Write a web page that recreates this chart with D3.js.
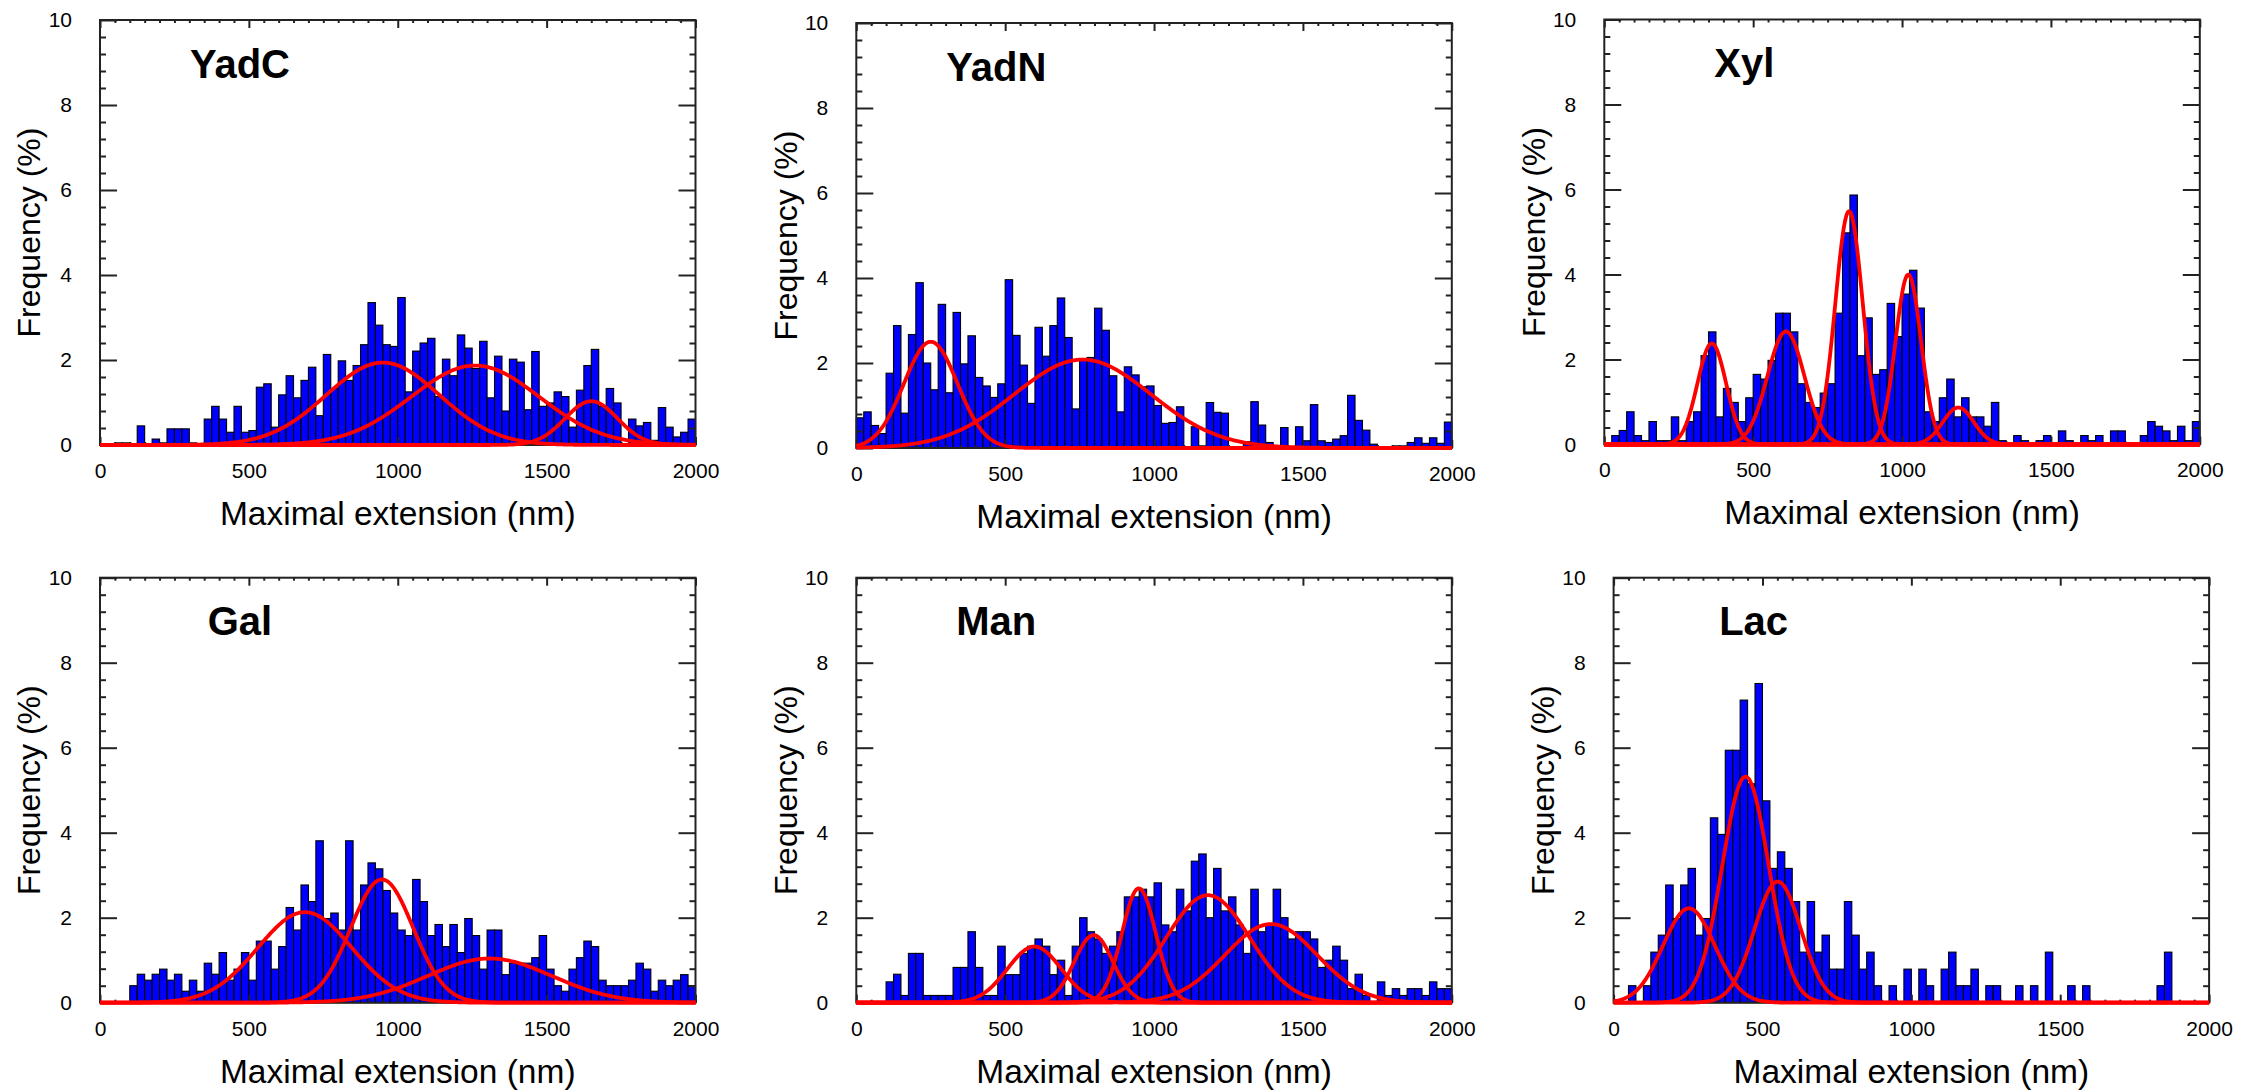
<!DOCTYPE html>
<html><head><meta charset="utf-8">
<script src="https://cdn.jsdelivr.net/npm/d3@7"></script>
<style>
body{margin:0;background:#fff;}
svg{display:block;font-family:Arial,"Liberation Sans",sans-serif;}
</style></head><body>
<svg id="chart" width="2257" height="1092"></svg>
<script>
// ---------- data ----------
const binWidth = 25; // nm
const xTicks = [0, 500, 1000, 1500, 2000];
const yTicks = [0, 2, 4, 6, 8, 10];
const panelTitles = ["YadC", "YadN", "Xyl", "Gal", "Man", "Lac"];
const xLabel = "Maximal extension (nm)";
const yLabel = "Frequency (%)";

// frequencies (%) per 25-nm bin, 0–2000 nm
const yadC = [0,0,0.05,0.05,0,0.45,0,0.14,0.05,0.38, 0.38,0.38,0.05,0,0.61,0.91,0.61,0.30,0.91,0.30,
  0.34,1.36,1.44,0.42,1.18,1.63,1.11,1.52,1.83,0.69, 2.13,1.33,1.98,1.52,1.87,2.36,3.35,2.82,2.36,2.32,
  3.47,1.25,2.21,2.40,2.51,1.14,2.02,1.63,2.59,2.28, 1.80,2.44,1.11,2.09,0.80,2.02,1.95,0.83,2.20,0.91,
  0.99,1.25,1.14,0.42,1.29,1.87,2.25,0.91,1.33,0.99, 0,0.61,0.45,0.53,0.11,0.88,0.42,0.19,0.30,0.61];
const yadN = [0.71,0.85,0.53,0.34,1.76,2.88,0.82,2.67,3.89,2.0, 1.37,3.38,1.30,3.19,1.98,2.64,1.66,1.46,1.19,1.51,
  3.96,2.65,1.95,1.05,2.84,2.16,2.88,3.53,2.60,0.92, 2.07,2.13,3.29,2.77,1.70,0.85,1.91,1.72,1.44,1.46,
  1.0,0.58,0.60,0.97,0,0.50,0.05,1.07,0.84,0.82, 0,0,0.15,1.09,0.54,0.13,0,0.48,0,0.50,
  0.17,1.02,0.17,0.13,0.21,0.29,1.24,0.65,0.42,0.09, 0,0,0.05,0.05,0.13,0.24,0.11,0.24,0.11,0.61];
const xyl = [0,0.21,0.33,0.77,0.21,0.09,0.54,0.09,0.09,0.65, 0.09,0.54,0.77,2.09,2.65,0.65,1.32,0.99,0.54,1.10,
  1.65,1.54,1.98,3.09,3.09,2.65,1.43,0.99,0.87,1.21, 1.43,3.09,4.98,5.87,2.09,2.98,1.65,1.76,3.32,2.54,
  3.54,4.10,3.21,0.77,0.54,1.10,1.54,0.65,1.10,0.65, 0.65,0.43,0.99,0.09,0,0.21,0.09,0,0.09,0.21,
  0,0.32,0.09,0,0.21,0.09,0.21,0,0.32,0.32, 0,0,0.21,0.54,0.43,0.32,0.09,0.43,0.09,0.54];
const gal = [0,0,0,0,0.40,0.67,0.53,0.67,0.79,0.53, 0.67,0.27,0.53,0.27,0.93,0.67,1.18,0.53,0.79,1.18,
  0.53,1.45,1.45,0.79,1.32,2.24,1.71,2.77,2.38,3.81, 1.98,2.11,1.71,3.81,1.71,2.77,3.29,3.15,2.64,2.11,
  1.71,1.58,2.90,2.38,1.58,1.84,1.32,1.84,1.18,1.98, 1.58,0.79,1.71,1.71,0.66,0.93,0.93,0.93,1.06,1.58,
  0.79,0.40,0.27,0.79,1.06,1.45,1.32,0.53,0.40,0.40, 0.40,0.53,0.93,0.79,0.27,0.53,0.40,0.53,0.66,0.40];
const man = [0,0,0,0,0.49,0.67,0.17,1.16,1.16,0.17, 0.17,0.17,0.17,0.83,0.83,1.67,0.83,0.17,0.17,1.33,
  0.66,0.66,1.16,1.33,1.50,1.33,0.66,1.0,0.17,1.33, 2.0,1.67,1.50,1.16,1.33,1.67,2.49,2.49,2.67,2.49,
  2.82,1.83,1.67,2.67,2.16,3.33,3.50,2.0,3.16,2.16, 2.49,1.83,1.16,2.67,1.67,1.83,2.67,2.0,1.50,1.67,
  1.67,1.50,0.83,1.0,1.33,1.0,0.33,0.67,0.17,0, 0.49,0.17,0.33,0.17,0.33,0.33,0.17,0.49,0.33,0.33];
const lac = [0,0,0.40,0,0.40,1.19,1.59,2.77,1.98,2.77, 3.16,1.59,1.98,4.35,3.96,5.94,5.94,7.12,5.15,7.51,
  4.75,3.16,3.55,3.16,2.38,1.19,2.38,1.19,1.59,0.79, 0.79,2.38,1.59,0.79,1.19,0.40,0,0.40,0,0.79,
  0,0.79,0.40,0,0.79,1.19,0.40,0.40,0.79,0, 0.40,0.40,0,0,0.40,0,0.40,0,1.19,0,
  0,0.40,0,0.40,0,0,0,0,0,0, 0,0,0,0.40,1.19,0,0,0,0,0];

// Gaussian fit components: [amplitude %, centre nm, sigma nm]
const yadCFits = [[1.94, 950, 190], [1.87, 1260, 215], [1.03, 1650, 88]];
const yadNFits = [[2.50, 250, 90], [2.08, 760, 230]];
const xylFits  = [[2.38, 361, 48], [2.66, 610, 62], [5.49, 822, 46], [4.00, 1021, 43], [0.87, 1189, 52]];
const galFits  = [[2.13, 688, 158], [2.90, 947, 105], [1.04, 1309, 208]];
const manFits  = [[1.32, 598, 90], [1.59, 797, 65], [2.69, 949, 57], [2.53, 1181, 140], [1.85, 1393, 155]];
const lacFits  = [[2.22, 253, 87], [5.32, 443, 78], [2.85, 551, 78]];

// ---------- layout ----------
const W = 595.5, H = 425;
const panels = [
  {title: panelTitles[0], data: yadC, fits: yadCFits, left: 100,   top: 20},
  {title: panelTitles[1], data: yadN, fits: yadNFits, left: 856.3, top: 23},
  {title: panelTitles[2], data: xyl,  fits: xylFits,  left: 1604.3,top: 19.5},
  {title: panelTitles[3], data: gal,  fits: galFits,  left: 100,   top: 577.7},
  {title: panelTitles[4], data: man,  fits: manFits,  left: 856.3, top: 577.7},
  {title: panelTitles[5], data: lac,  fits: lacFits,  left: 1613.6,top: 577.7}
];

const svg = d3.select("#chart");
const axisColor = "#222";
const FONT = "Arial, 'Liberation Sans', sans-serif";

panels.forEach(p => {
  const g = svg.append("g").attr("transform", `translate(${p.left},${p.top})`);
  const x = d3.scaleLinear().domain([0, 2000]).range([0, W]);
  const y = d3.scaleLinear().domain([0, 10]).range([H, 0]);

  // bars
  g.selectAll("rect.bar")
    .data(p.data.map((v, i) => ({v, i})).filter(d => d.v > 0))
    .join("rect").attr("class", "bar")
    .attr("x", d => x(d.i * binWidth))
    .attr("width", x(binWidth) - x(0))
    .attr("y", d => y(d.v))
    .attr("height", d => H - y(d.v))
    .attr("fill", "#0000ff").attr("stroke", "#000").attr("stroke-width", 1.1);

  // axes (inward ticks)
  const yMinor = d3.range(0, 10.001, 0.4).filter(v => Math.abs(v / 2 - Math.round(v / 2)) > 0.01);
  const xMinor = d3.range(0, 2001, 50).filter(v => v % 500 !== 0);
  const styleAxis = sel => {
    sel.select(".domain").remove();
    sel.selectAll(".tick line").attr("stroke", axisColor).attr("stroke-width", 2);
  };
  const styleText = sel => sel.selectAll("text").attr("font-size", 21).attr("fill", "#000").attr("font-family", FONT);
  g.append("g").call(d3.axisLeft(y).tickValues(yTicks).tickSize(-17).tickPadding(28).tickFormat(d3.format("d")))
    .call(styleAxis).call(styleText);
  g.append("g").call(d3.axisLeft(y).tickValues(yMinor).tickSize(-6).tickFormat("")).call(styleAxis);
  g.append("g").attr("transform", `translate(${W},0)`)
    .call(d3.axisRight(y).tickValues(yTicks).tickSize(-17).tickFormat("")).call(styleAxis);
  g.append("g").attr("transform", `translate(${W},0)`)
    .call(d3.axisRight(y).tickValues(yMinor).tickSize(-6).tickFormat("")).call(styleAxis);
  g.append("g").attr("transform", `translate(0,${H})`)
    .call(d3.axisBottom(x).tickValues(xTicks).tickSize(-8).tickPadding(18).tickFormat(d3.format("d")))
    .call(styleAxis).call(styleText);
  g.append("g").attr("transform", `translate(0,${H})`)
    .call(d3.axisBottom(x).tickValues(xMinor).tickSize(-3).tickFormat("")).call(styleAxis);
  g.append("g")
    .call(d3.axisTop(x).tickValues(xTicks).tickSize(-8).tickFormat("")).call(styleAxis);
  g.append("g")
    .call(d3.axisTop(x).tickValues(xMinor).tickSize(-3).tickFormat("")).call(styleAxis);

  // frame
  g.append("rect").attr("width", W).attr("height", H)
    .attr("fill", "none").attr("stroke", axisColor).attr("stroke-width", 2);

  // gaussian fit curves
  const xs = d3.range(0, 2000.01, 4);
  const line = d3.line().x(d => x(d[0])).y(d => y(d[1]));
  p.fits.forEach(([a, mu, s]) => {
    g.append("path")
      .datum(xs.map(v => [v, a * Math.exp(-((v - mu) ** 2) / (2 * s * s))]))
      .attr("d", line).attr("fill", "none")
      .attr("stroke", "#ff0000").attr("stroke-width", 3.8).attr("stroke-linejoin", "round");
  });

  // titles
  g.append("text").attr("x", 140).attr("y", 47).attr("text-anchor", "middle")
    .attr("dominant-baseline", "middle")
    .attr("font-size", 40).attr("font-weight", "bold").text(p.title);
  g.append("text").attr("x", W / 2).attr("y", H + 71).attr("text-anchor", "middle")
    .attr("dominant-baseline", "middle").attr("font-size", 33.5).text(xLabel);
  g.append("text").attr("transform", `translate(-68,${H / 2}) rotate(-90)`)
    .attr("text-anchor", "middle").attr("dominant-baseline", "middle")
    .attr("font-size", 32).text(yLabel);
});
</script>
</body></html>
